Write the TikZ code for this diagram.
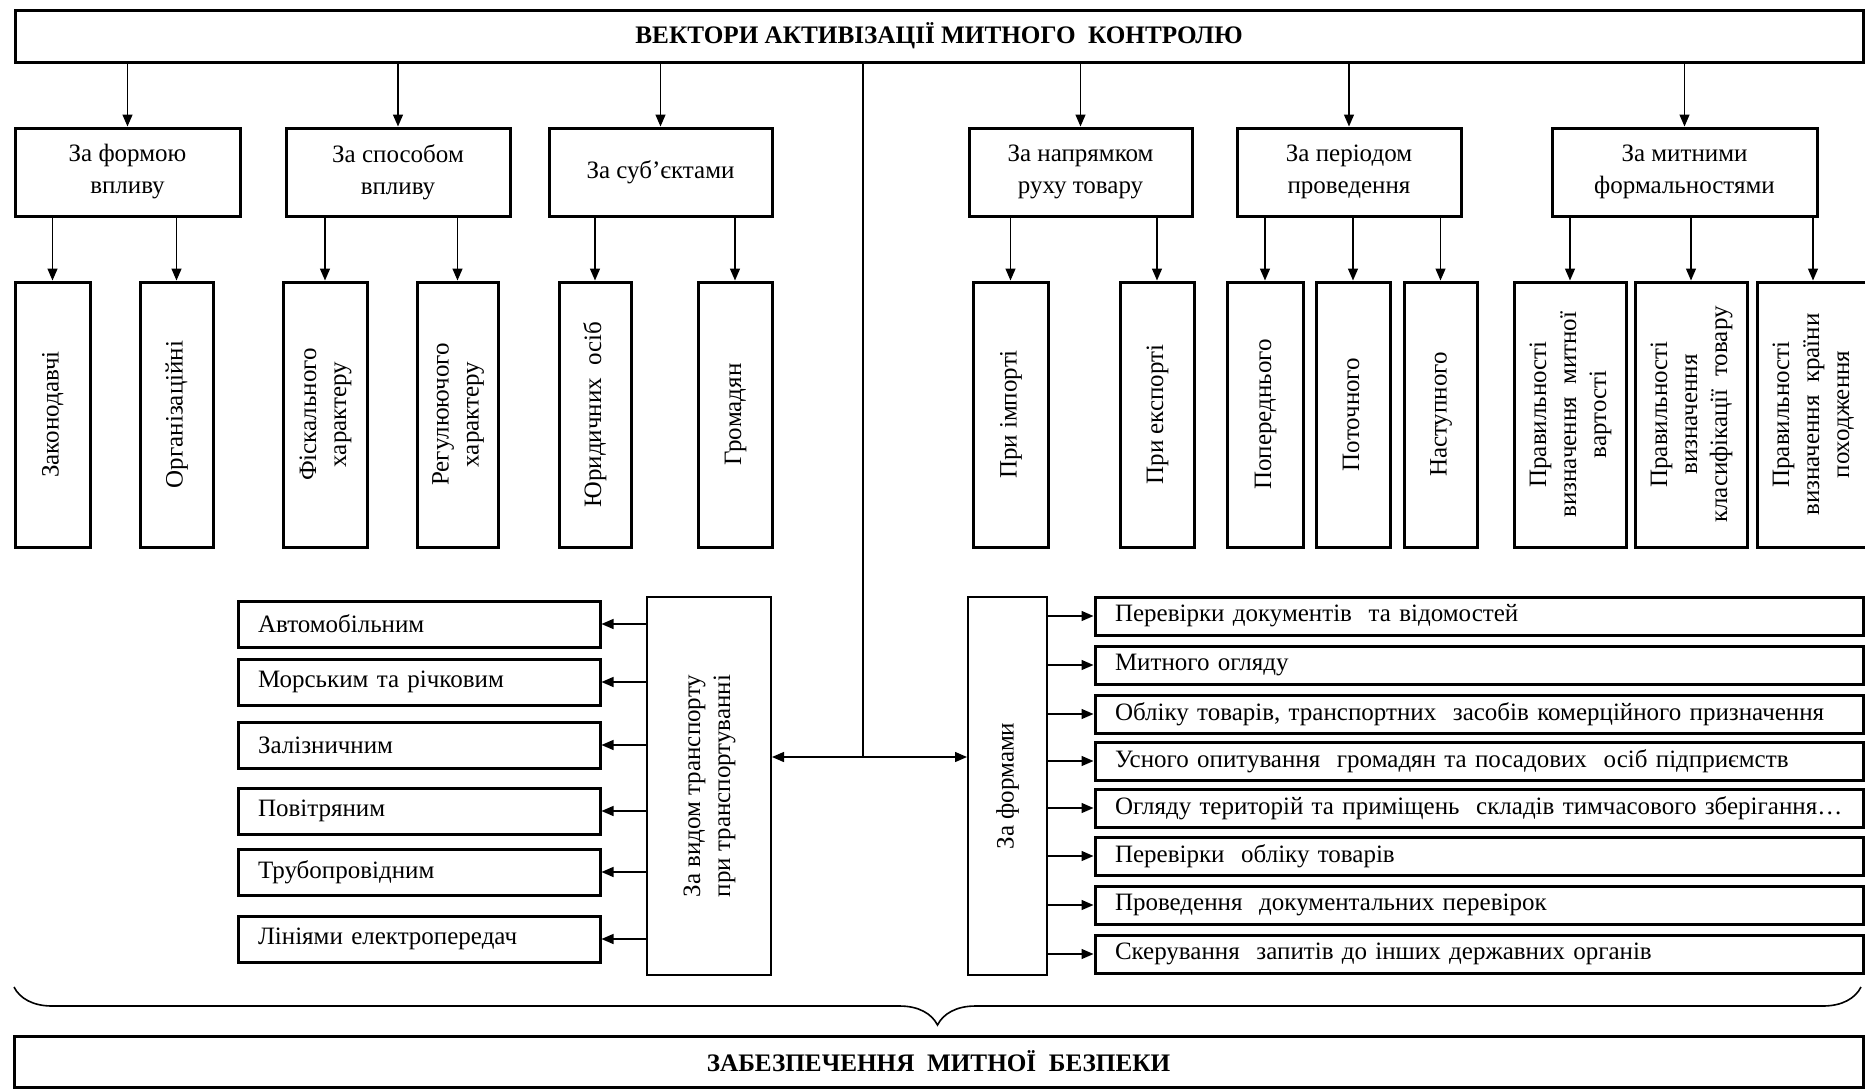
\documentclass[tikz,border=0pt]{standalone}
\usepackage{fontspec}
\setmainfont{Liberation Serif}
\usepackage{graphicx}
\usetikzlibrary{arrows.meta,decorations.pathreplacing}
\tikzstyle{hbox}=[draw=black,line width=1.5pt,align=center,inner sep=0pt,font=\fontsize{12.5}{16}\selectfont]
\tikzstyle{vbox}=[draw=black,line width=1.5pt,inner sep=0pt,minimum height=132.5pt,font=\fontsize{12.5}{15}\selectfont]
\tikzstyle{sbox}=[draw=black,line width=1pt,inner sep=0pt,minimum height=189pt,font=\fontsize{12.5}{15}\selectfont]
\tikzstyle{lbox}=[draw=black,line width=1.5pt,inner xsep=10pt,inner ysep=0pt,align=left,font=\fontsize{12.5}{15}\selectfont]
\tikzstyle{dgr}=[->,line width=0.7pt,>={Triangle[length=6pt,width=5pt]}]
\newcommand{\vtxt}[1]{\rotatebox{90}{\begin{tabular}{@{}c@{}}#1\end{tabular}}}

\begin{document}
\begin{tikzpicture}[x=0.5pt,y=-0.5pt]
\useasboundingbox (0,0) rectangle (1865,1088);
\node[hbox,minimum width=924pt,minimum height=26pt,font=\bfseries\fontsize{12.6}{14}\selectfont] (top) at (939,36) {ВЕКТОРИ АКТИВІЗАЦІЇ МИТНОГО~ КОНТРОЛЮ};

\node[hbox,minimum width=112.5pt,minimum height=44pt] (form) at (127.5,172) {За формою\\впливу};
\node[hbox,minimum width=112pt,minimum height=44pt] (sposib) at (398,172) {За способом\\впливу};
\node[hbox,minimum width=111.5pt,minimum height=44pt] (subj) at (660.5,172) {За суб’єктами};
\node[hbox,minimum width=111.5pt,minimum height=44pt] (napr) at (1080.5,172) {За напрямком\\руху товару};
\node[hbox,minimum width=112pt,minimum height=44pt] (period) at (1349,172) {За періодом\\проведення};
\node[hbox,minimum width=132.5pt,minimum height=44pt] (formal) at (1684.5,172) {За митними\\формальностями};

\node[vbox,minimum width=37.5pt] (zak) at (52.5,414.5) {\vtxt{Законодавчі}};
\node[vbox,minimum width=36.5pt] (org) at (176.5,414.5) {\vtxt{Організаційні}};
\node[vbox,minimum width=42pt] (fisk) at (325,414.5) {\vtxt{Фіскального\\характеру}};
\node[vbox,minimum width=40.5pt] (reg) at (457.5,414.5) {\vtxt{Регулюючого\\характеру}};
\node[vbox,minimum width=36pt] (yur) at (595,414.5) {\vtxt{Юридичних~ осіб}};
\node[vbox,minimum width=37pt] (grom) at (735,414.5) {\vtxt{Громадян}};
\node[vbox,minimum width=37.5pt] (imp) at (1010.5,414.5) {\vtxt{При імпорті}};
\node[vbox,minimum width=37pt] (eksp) at (1157,414.5) {\vtxt{При експорті}};
\node[vbox,minimum width=38pt] (poper) at (1265,414.5) {\vtxt{Попереднього}};
\node[vbox,minimum width=37pt] (potoch) at (1353,414.5) {\vtxt{Поточного}};
\node[vbox,minimum width=36.5pt] (nast) at (1440.5,414.5) {\vtxt{Наступного}};
\node[vbox,minimum width=56pt] (vart) at (1570,414.5) {\vtxt{Правильності\\визначення~ митної\\вартості}};
\node[vbox,minimum width=56pt] (klas) at (1691,414.5) {\vtxt{Правильності\\визначення\\класифікації~ товару}};
\node[vbox,minimum width=56pt] (krai) at (1813,414.5) {\vtxt{Правильності\\визначення~ країни\\походження}};

\foreach \n in {form,sposib,subj,napr,period,formal}
  \draw[dgr] (top.south -| \n.north) -- (\n.north);
\foreach \p/\c in {form/zak,form/org,sposib/fisk,sposib/reg,subj/yur,subj/grom,napr/imp,napr/eksp,period/poper,period/potoch,period/nast,formal/vart,formal/klas,formal/krai}
  \draw[dgr] (\p.south -| \c.north) -- (\c.north);

\node[sbox,minimum width=62pt] (trans) at (709,786) {\vtxt{За видом транспорту\\при транспортуванні}};
\node[sbox,minimum width=39.5pt] (forms) at (1007.5,786) {\vtxt{За формами}};

\coordinate (hub) at (863,757);
\draw[line width=0.7pt] (top.south -| hub) -- (hub);
\draw[dgr] (hub) -- (trans.east |- hub);
\draw[dgr] (hub) -- (forms.west |- hub);

\foreach \i/\y/\t in {1/624/Автомобільним,2/682/Морським та річковим,3/745/Залізничним,4/811/Повітряним,5/872/Трубопровідним,6/939/Лініями електропередач}{
  \node[lbox,text width=161pt,minimum height=23pt] (t\i) at (419,\y) {\t};
  \draw[dgr] (trans.west |- t\i.east) -- (t\i.east);
}

\foreach \i/\y/\t in {1/616/{Перевірки документів~ та відомостей},2/665/{Митного огляду},3/714/{Обліку товарів, транспортних~ засобів комерційного призначення},4/761/{Усного опитування~ громадян та посадових~ осіб підприємств},5/808/{Огляду територій та приміщень~ складів тимчасового зберігання…},6/856/{Перевірки~ обліку товарів},7/905/{Проведення~ документальних перевірок},8/954/{Скерування~ запитів до інших державних органів}}{
  \node[lbox,text width=364pt,minimum height=19pt] (f\i) at (1479,\y) {\t};
  \draw[dgr] (forms.east |- f\i.west) -- (f\i.west);
}

\coordinate (bl) at (14,987);
\coordinate (br) at (1861,987);
\draw[decorate,decoration={brace,mirror,amplitude=19pt},line width=0.8pt] (bl) -- (br);

\node[hbox,minimum width=924.5pt,minimum height=25.5pt,font=\bfseries\fontsize{12.6}{14}\selectfont] (bottom) at (938.5,1061.5) {ЗАБЕЗПЕЧЕННЯ~ МИТНОЇ~ БЕЗПЕКИ};
\end{tikzpicture}
\end{document}
